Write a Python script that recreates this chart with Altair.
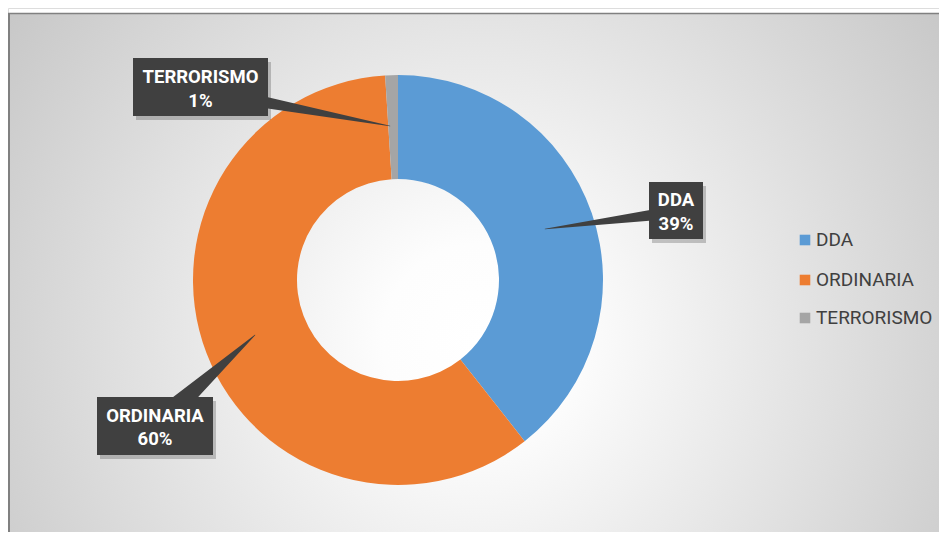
import altair as alt
import pandas as pd

# ---- data ----
categories = ["DDA", "ORDINARIA", "TERRORISMO"]
shares = [39.4, 59.6, 1.0]
colors = ["#5B9BD5", "#ED7D31", "#A5A5A5"]

# ---- layout (pixels, view coords) ----
W, H = 931, 524
CX, CY = 390, 272
R_OUT, R_IN = 205, 101
box_pos = {  # x, y, x2, y2
    "DDA": (641, 174, 695, 231),
    "ORDINARIA": (89, 389, 205, 447),
    "TERRORISMO": (125, 50, 260, 108),
}
text_pos = {  # center x, baseline line1, baseline line2
    "DDA": (668, 198, 222),
    "ORDINARIA": (147, 414, 437),
    "TERRORISMO": (192.5, 75, 99),
}
pointer = {  # base x, base y, base width, tip x, tip y
    "DDA": (668, 204, 13, 537, 221),
    "ORDINARIA": (147, 418, 24, 247, 327),
    "TERRORISMO": (192, 82, 17, 382, 118),
}
legend_x, legend_y = (797, 808), [232, 272, 310]

FONT = "Roboto, Liberation Sans, Arial, sans-serif"

df = pd.DataFrame({"cat": categories, "share": shares, "i": range(len(categories))})
df["pct"] = [f"{round(s)}%" for s in shares]

# background with radial gradient
bg_df = pd.DataFrame({"a": [0]})
background = alt.Chart(bg_df).mark_rect(
    fill=alt.RadialGradient(
        gradient="radial",
        stops=[
            alt.GradientStop(color="#ffffff", offset=0),
            alt.GradientStop(color="#fdfdfd", offset=0.15),
            alt.GradientStop(color="#c0c0c0", offset=1),
        ],
        x1=0.5, y1=0.5, x2=0.5, y2=0.5, r1=0, r2=0.68,
    ),
).encode(x=alt.value(1), x2=alt.value(939), y=alt.value(6), y2=alt.value(658))

frame_left = alt.Chart(bg_df).mark_rule(color="#808080", strokeWidth=2).encode(
    x=alt.value(1), y=alt.value(5), y2=alt.value(H + 10)
)
frame_top = alt.Chart(bg_df).mark_rule(color="#808080", strokeWidth=1.5).encode(
    x=alt.value(0), x2=alt.value(W + 10), y=alt.value(5.5)
)

donut = alt.Chart(df).mark_arc(
    radius=R_OUT, radius2=R_IN, x=CX, y=CY
).encode(
    theta=alt.Theta("share:Q", stack=True),
    color=alt.Color("cat:N", scale=alt.Scale(domain=categories, range=colors), legend=None),
    order=alt.Order("i:Q"),
)

# callouts
box_df = pd.DataFrame([
    {"cat": c, "x": box_pos[c][0], "y": box_pos[c][1], "x2": box_pos[c][2], "y2": box_pos[c][3]}
    for c in categories
])
box_df["sx"] = box_df["x"] + 3
box_df["sy"] = box_df["y"] + 4
box_df["sx2"] = box_df["x2"] + 3
box_df["sy2"] = box_df["y2"] + 4

shadow = alt.Chart(box_df).mark_rect(color="#000000", opacity=0.2).encode(
    x=alt.X("sx:Q", scale=None), x2="sx2:Q", y=alt.Y("sy:Q", scale=None), y2="sy2:Q"
)
boxes = alt.Chart(box_df).mark_rect(color="#404040").encode(
    x=alt.X("x:Q", scale=None), x2="x2:Q", y=alt.Y("y:Q", scale=None), y2="y2:Q"
)

ptr_rows = []
for c in categories:
    bx, by, bw, tx, ty = pointer[c]
    ptr_rows.append({"cat": c, "k": 0, "x": bx, "y": by, "w": bw})
    ptr_rows.append({"cat": c, "k": 1, "x": tx, "y": ty, "w": 0.5})
ptr_df = pd.DataFrame(ptr_rows)
pointers = alt.Chart(ptr_df).mark_trail(color="#404040").encode(
    x=alt.X("x:Q", scale=None),
    y=alt.Y("y:Q", scale=None),
    size=alt.Size("w:Q", scale=None, legend=None),
    detail="cat:N",
    order="k:Q",
)

txt_rows = []
for c, p in zip(categories, df["pct"]):
    x, b1, b2 = text_pos[c]
    txt_rows.append({"t": c, "x": x, "y": b1})
    txt_rows.append({"t": p, "x": x, "y": b2})
txt_df = pd.DataFrame(txt_rows)
labels = alt.Chart(txt_df).mark_text(
    color="white", font=FONT, fontSize=18.5, fontWeight="bold", align="center", baseline="alphabetic"
).encode(x=alt.X("x:Q", scale=None), y=alt.Y("y:Q", scale=None), text="t:N")

# legend
leg_df = pd.DataFrame({"cat": categories, "sx": legend_x[0], "tx": legend_x[1], "y": legend_y})
leg_sym = alt.Chart(leg_df).mark_square(size=112, opacity=1).encode(
    x=alt.X("sx:Q", scale=None), y=alt.Y("y:Q", scale=None),
    color=alt.Color("cat:N", scale=alt.Scale(domain=categories, range=colors), legend=None),
)
leg_txt = alt.Chart(leg_df).mark_text(
    font=FONT, fontSize=19, color="#404040", align="left", baseline="middle"
).encode(x=alt.X("tx:Q", scale=None), y=alt.Y("y:Q", scale=None), text="cat:N")

chart = alt.layer(
    background, frame_left, frame_top, donut, shadow, pointers, boxes, labels, leg_sym, leg_txt
).properties(
    width=W, height=H, padding=0, autosize=alt.AutoSizeParams(type="none")
).configure_view(stroke=None).configure(background="white")

chart.save("out.html", embed_options={"renderer": "svg", "actions": False})
